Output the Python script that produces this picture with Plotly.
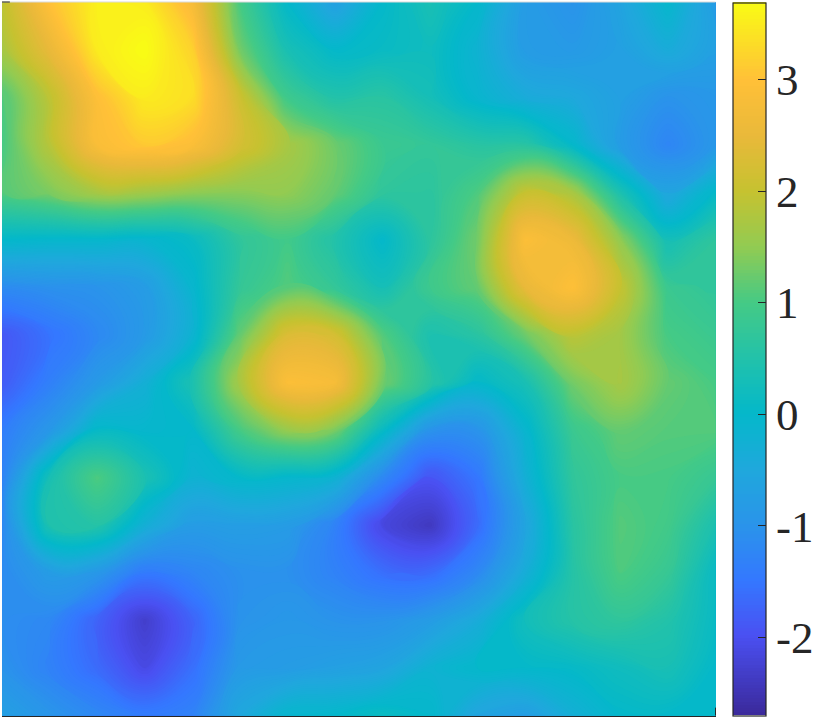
import plotly.graph_objects as go

row_00 = [1.9, 3.0, 3.55, 3.5, 2.8, 1.0, 0.0, -0.7, 0.0, 0.35, 0.0, -0.8, -1.0, -0.6, -0.05, -0.8]
row_01 = [1.7, 2.5, 3.5, 3.7, 3.2, 1.3, 0.35, 0.0, 0.1, 0.2, -0.2, -0.8, -0.85, -0.7, -0.4, -0.7]
row_02 = [1.05, 1.9, 2.95, 3.5, 3.35, 2.1, 0.9, 0.5, 0.6, 0.3, -0.1, -0.4, -0.5, -0.7, -1.0, -0.9]
row_03 = [1.0, 1.85, 2.85, 3.1, 2.9, 2.2, 1.7, 1.25, 0.85, 0.75, 0.6, 0.6, 0.0, -0.8, -1.25, -0.9]
row_04 = [1.1, 1.35, 1.7, 1.65, 1.5, 1.45, 1.5, 1.2, 0.7, 0.65, 1.05, 2.0, 1.7, 0.4, -0.6, 0.05]
row_05 = [0.0, -0.05, -0.05, -0.1, 0.1, 0.7, 0.95, 0.5, 0.0, 0.65, 1.3, 2.9, 2.6, 1.5, 0.3, 0.7]
row_06 = [-1.15, -1.05, -1.0, -0.8, -0.1, 0.75, 1.1, 0.75, 0.3, 0.9, 1.2, 2.5, 2.95, 2.0, 0.85, 0.7]
row_07 = [-1.9, -1.55, -1.2, -0.85, -0.2, 1.2, 2.3, 2.2, 1.1, 0.4, 0.6, 1.25, 1.9, 1.65, 1.0, 0.85]
row_08 = [-1.85, -1.35, -0.85, -0.3, 0.4, 1.7, 2.9, 2.8, 1.3, 0.6, 0.0, 0.35, 1.3, 1.7, 1.2, 1.0]
row_09 = [-1.4, -0.9, 0.05, -0.05, 0.0, 1.0, 1.55, 1.35, 0.1, -1.0, -1.0, -0.1, 0.85, 1.2, 1.1, 1.1]
row_10 = [-1.3, 0.35, 1.05, 0.4, -0.2, 0.0, -0.05, -0.2, -1.2, -1.95, -1.5, -0.3, 0.7, 1.0, 1.0, 0.8]
row_11 = [-1.2, 0.45, 0.55, -0.3, -0.8, -0.75, -0.8, -1.3, -2.15, -2.4, -1.65, -0.6, 0.6, 1.1, 0.95, 0.4]
row_12 = [-1.15, -0.8, -0.9, -1.45, -1.25, -1.05, -1.05, -1.3, -1.6, -1.65, -1.2, -0.35, 0.55, 1.05, 0.8, 0.1]
row_13 = [-1.1, -1.2, -1.75, -2.3, -1.75, -1.0, -0.9, -1.0, -1.0, -0.8, -0.4, 0.25, 0.55, 0.7, 0.5, 0.1]
row_14 = [-1.0, -1.3, -1.65, -2.1, -1.6, -0.85, -0.8, -0.7, -0.6, -0.2, 0.0, 0.0, 0.05, 0.2, 0.35, 0.0]
row_15 = [-0.7, -0.95, -1.2, -1.4, -1.3, -0.5, -0.05, 0.0, 0.15, 0.0, -0.6, -0.75, -0.3, 0.0, 0.0, 0.0]
field = [row_00, row_01, row_02, row_03, row_04, row_05, row_06, row_07,
         row_08, row_09, row_10, row_11, row_12, row_13, row_14, row_15]

z_min = -2.7
z_max = 3.69
scale_values = [-2.7, -2.0, -1.5, -1.0, -0.5, 0.0, 0.5, 1.0, 1.5, 2.0, 2.5, 3.0, 3.69]
scale_colors = ["#3b2a9c", "#4a50f2", "#3478ff", "#2a94ea", "#1fa8dc", "#04b8ca", "#22c2aa",
                "#45ca85", "#92cb52", "#c6c230", "#e9b93a", "#ffc038", "#f9fb15"]
tick_values = [-2, -1, 0, 1, 2, 3]
tick_labels = ["-2", "-1", "0", "1", "2", "3"]

W, H = 816, 719
colorscale = [[(v - z_min) / (z_max - z_min), c] for v, c in zip(scale_values, scale_colors)]
level = (z_max - z_min) / 213

fig = go.Figure(go.Contour(
    z=field,
    zmin=z_min,
    zmax=z_max,
    colorscale=colorscale,
    hoverinfo="skip",
    contours=dict(coloring="fill", start=z_min + level, end=z_max - level, size=level, showlines=False),
    line=dict(width=0, smoothing=1.3),
    colorbar=dict(
        thicknessmode="pixels", thickness=33,
        lenmode="pixels", len=713,
        x=733 / W, xanchor="left", xpad=0,
        y=(H - 715.5) / H, yanchor="bottom", ypad=0,
        outlinecolor="#262626", outlinewidth=1.2,
        ticks="inside", ticklen=8, tickcolor="#262626", tickwidth=1,
        tickmode="array", tickvals=tick_values, ticktext=tick_labels,
        tickprefix="\u2009\u2009",
        tickfont=dict(family="Liberation Serif", size=45, color="#262626"),
    ),
))

fig.update_xaxes(range=[0, 15], domain=[2 / W, 715.5 / W], showgrid=False, zeroline=False,
                 showticklabels=False, ticks="", showline=True, linecolor="#262626", linewidth=1.2)
fig.update_yaxes(range=[15, 0], domain=[(H - 715.5) / H, (H - 2) / H], showgrid=False, zeroline=False,
                 showticklabels=False, ticks="")

# grey top edge and the two short leftover axis ticks
fig.add_shape(type="line", xref="x domain", yref="y domain", x0=0, x1=1, y0=1, y1=1,
              line=dict(color="#d9d9d9", width=1))
fig.add_shape(type="line", xref="x domain", yref="y domain", x0=0, x1=0.011, y0=1, y1=1,
              line=dict(color="#262626", width=1))
fig.add_shape(type="line", xref="x domain", yref="y domain", x0=1, x1=1, y0=0, y1=0.011,
              line=dict(color="#262626", width=1))

fig.update_layout(
    width=W, height=H,
    margin=dict(l=0, r=0, t=0, b=0, autoexpand=False),
    paper_bgcolor="white",
    plot_bgcolor="white",
)

fig.write_html("out.html", config=dict(displayModeBar=False),
               post_script="document.body.style.margin='0';")
